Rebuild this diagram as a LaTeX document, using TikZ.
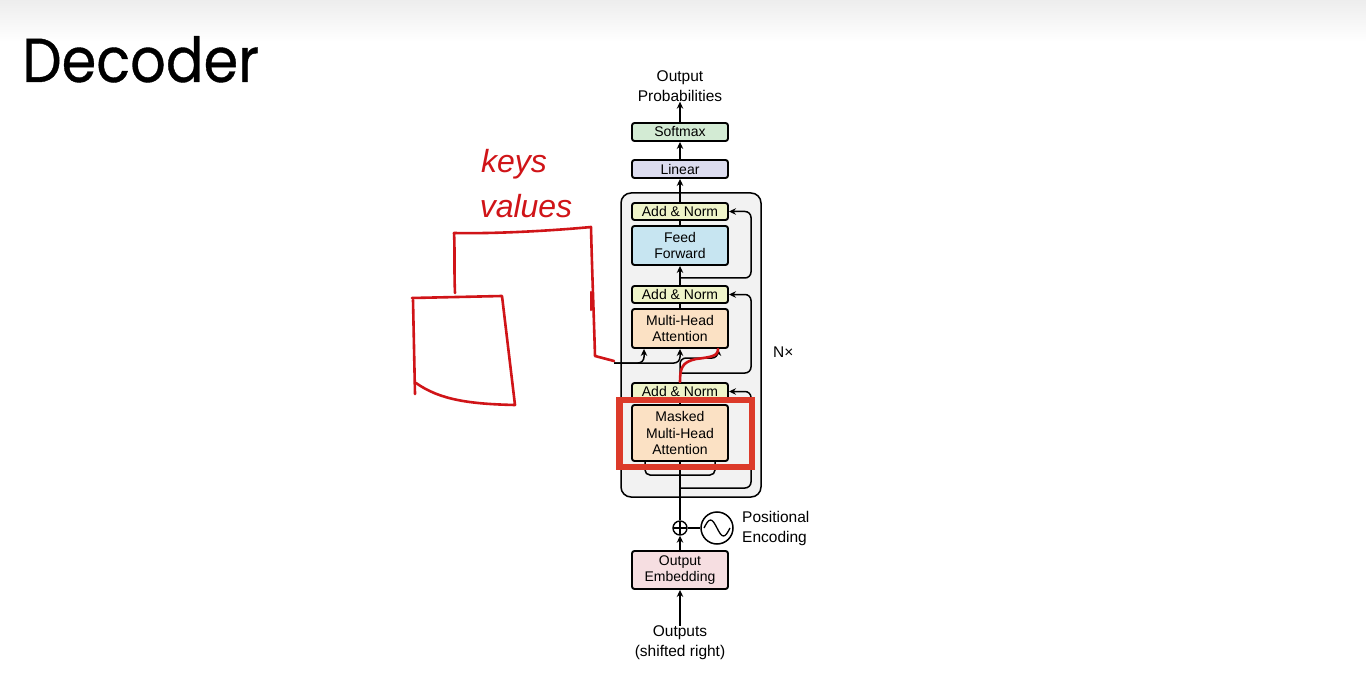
\documentclass[tikz,border=0pt]{standalone}
\usepackage{fontspec}
\setmainfont{Liberation Sans}
\newfontfamily\titlefont{Poppins}[FakeBold=0.6]
\usetikzlibrary{arrows.meta,calc}
\definecolor{cSoft}{HTML}{D3EBD4}
\definecolor{cLin}{HTML}{DCDCEF}
\definecolor{cAN}{HTML}{EFF4C9}
\definecolor{cFF}{HTML}{C7E5F1}
\definecolor{cMHA}{HTML}{FBE1C4}
\definecolor{cEmb}{HTML}{F6DEE1}
\definecolor{cNx}{HTML}{F2F2F2}
\definecolor{penred}{HTML}{D01418}
\definecolor{boxred}{HTML}{DC3A2A}
\tikzset{
  blk/.style={draw, line width=1.9pt, rounded corners=2.5pt, minimum width=96pt, inner sep=0pt,
    align=center, font=\fontsize{14}{16.5}\selectfont},
  arr/.style={line width=1.5pt, -{Stealth[length=7pt,width=6.5pt]}},
  ln/.style={line width=1.5pt},
  lbl/.style={align=center, font=\fontsize{15.5}{20}\selectfont, inner sep=0pt},
  pen/.style={penred, line width=2.6pt, line cap=round, line join=round},
}
\begin{document}
\begin{tikzpicture}[x=1pt,y=-1pt]
\useasboundingbox (0,0) rectangle (1366,679);
\fill[white] (0,0) rectangle (1366,679);
\shade[top color=black!7, bottom color=white] (0,0) rectangle (1366,42);

% title
\node[anchor=base west, inner sep=0pt, font=\titlefont\fontsize{62}{62}\selectfont] (title) at (22,82) {\scalebox{0.9}[1]{Decoder}};

% Nx block
\node[draw, line width=1.5pt, rounded corners=10pt, fill=cNx, minimum width=140pt, minimum height=304pt, inner sep=0pt] (nxbox) at (691,345) {};
\node[lbl, anchor=west] (nx) at (773,352) {N×};

% boxes
\node[blk, fill=cSoft, minimum height=18pt] (soft) at (680,132) {Softmax};
\node[blk, fill=cLin, minimum height=18pt] (lin) at (680,169) {Linear};
\node[blk, fill=cAN, minimum height=17pt] (an3) at (680,211.5) {Add \& Norm};
\node[blk, fill=cFF, minimum height=39pt] (ff) at (680,245.5) {Feed\\Forward};
\node[blk, fill=cAN, minimum height=17pt] (an2) at (680,294.5) {Add \& Norm};
\node[blk, fill=cMHA, minimum height=39pt] (mha) at (680,328.5) {Multi-Head\\Attention};
\node[blk, fill=cAN, minimum height=17pt] (an1) at (680,391.5) {Add \& Norm};
\node[blk, fill=cMHA, minimum height=56pt] (mmha) at (680,433) {Masked\\Multi-Head\\Attention};
\node[blk, fill=cEmb, minimum height=38pt] (emb) at (680,570) {Output\\Embedding};

\node[draw, circle, line width=1.4pt, minimum size=14pt, inner sep=0pt] (plus) at (680,528) {};
\draw[line width=1.2pt] ($(plus.center)+(-7,0)$) -- ($(plus.center)+(7,0)$) ($(plus.center)+(0,-7)$) -- ($(plus.center)+(0,7)$);
\node[draw, circle, line width=1.5pt, minimum size=32pt, inner sep=0pt] (sine) at (717,528) {};
\draw[line width=1.3pt] ($(sine.center)+(-13,0)$) sin ++(6.5,-8) cos ++(6.5,8) sin ++(6.5,8) cos ++(6.5,-8);

% labels
\node[lbl] (outprob) at (680,86) {Output\\Probabilities};
\node[lbl] (outs) at (680,643) {Outputs\\(shifted right)};
\node[lbl, anchor=west, align=left] (pe) at (742,528) {Positional\\Encoding};

% connectors
\draw[arr] (soft.north) -- (outprob.south);
\draw[arr] (lin.north) -- (soft.south);
\draw[arr] (an3.north) -- (lin.south);
\draw[ln] (ff.north) -- (an3.south);
\draw[arr] (an2.north) -- (ff.south);
\draw[ln] (mha.north) -- (an2.south);
\draw[ln] (mmha.north) -- (an1.south);
\draw[ln] (plus.north) -- (mmha.south);
\draw[arr] (emb.north) -- (plus.south);
\draw[arr] (outs.north) -- (emb.south);
\draw[ln] (plus.east) -- (sine.west);

% residuals
\coordinate (b3) at (680,278);
\coordinate (b2) at (680,373);
\coordinate (b1) at (680,488);
\draw[arr, rounded corners=6pt] (b3) -| (751,211.5) -- (an3.east);
\draw[arr, rounded corners=6pt] (b2) -| (751,294.5) -- (an2.east);
\draw[arr, rounded corners=6pt] (b1) -| (751,391.5) -- (an1.east);

% masked attention inputs
\draw[ln, rounded corners=5pt] ([xshift=-35pt]mmha.south) |- (680,475) -| ([xshift=35pt]mmha.south);

% MHA inputs
\coordinate (kv) at (614,363);
\draw[arr, rounded corners=6pt] (kv) -| ([xshift=-36pt]mha.south);
\draw[arr, rounded corners=6pt] (kv) -| (mha.south);
\draw[arr, rounded corners=6pt] (an1.north) |- (718,358) -- ([xshift=38pt]mha.south);

% red annotations
\draw[boxred, line width=6.5pt] (619.5,400) rectangle (752,467);
\draw[pen] (an1.north) .. controls (680,368) and (682,362) .. (696,359) .. controls (712,357) and (718,356) .. ([xshift=38pt]mha.south);
\draw[pen] (455,293) .. controls (454,270) and (455,250) .. (454,233) .. controls (500,234) and (560,230) .. (591,227) .. controls (592,270) and (594,320) .. (595,356) -- (614,361);
\draw[pen] (591,292) -- (591,310);
\draw[pen] (412,298) -- (502,296) -- (515,405) .. controls (470,404) and (440,400) .. (416,383);
\draw[pen] (413,300) -- (415,394);
\node[penred, font=\itshape\fontsize{32}{32}\selectfont, inner sep=0pt] (keys) at (514,164) {keys};
\node[penred, font=\itshape\fontsize{32}{32}\selectfont, inner sep=0pt] (vals) at (526,206) {values};
\end{tikzpicture}
\end{document}
